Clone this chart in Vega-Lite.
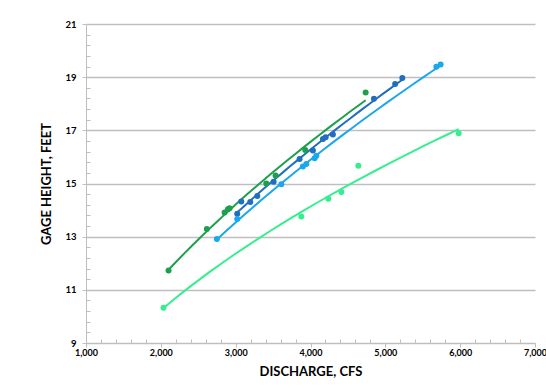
{
  "$schema": "https://vega.github.io/schema/vega-lite/v6.json",
  "width": 449,
  "height": 319,
  "autosize": "none",
  "padding": {"left": 86, "top": 24, "right": 11, "bottom": 45},
  "background": "white",
  "config": {"view": {"stroke": null}},
  "data": {"values": [
    {"series": "A", "q": 2103, "h": 11.73},
    {"series": "A", "q": 2615, "h": 13.29},
    {"series": "A", "q": 2852, "h": 13.91},
    {"series": "A", "q": 2896, "h": 14.03},
    {"series": "A", "q": 2918, "h": 14.07},
    {"series": "A", "q": 3409, "h": 15.0},
    {"series": "A", "q": 3533, "h": 15.3},
    {"series": "A", "q": 3930, "h": 16.26},
    {"series": "A", "q": 4737, "h": 18.42},
    {"series": "B", "q": 3021, "h": 13.86},
    {"series": "B", "q": 3075, "h": 14.32},
    {"series": "B", "q": 3195, "h": 14.3},
    {"series": "B", "q": 3289, "h": 14.53},
    {"series": "B", "q": 3507, "h": 15.07},
    {"series": "B", "q": 3854, "h": 15.92},
    {"series": "B", "q": 4032, "h": 16.24},
    {"series": "B", "q": 4166, "h": 16.67},
    {"series": "B", "q": 4202, "h": 16.74},
    {"series": "B", "q": 4299, "h": 16.84},
    {"series": "B", "q": 4848, "h": 18.19},
    {"series": "B", "q": 5131, "h": 18.74},
    {"series": "B", "q": 5227, "h": 18.97},
    {"series": "C", "q": 2749, "h": 12.91},
    {"series": "C", "q": 3021, "h": 13.66},
    {"series": "C", "q": 3610, "h": 14.97},
    {"series": "C", "q": 3898, "h": 15.64},
    {"series": "C", "q": 3944, "h": 15.73},
    {"series": "C", "q": 4055, "h": 15.95},
    {"series": "C", "q": 4078, "h": 16.04},
    {"series": "C", "q": 5682, "h": 19.39},
    {"series": "C", "q": 5739, "h": 19.48},
    {"series": "D", "q": 2036, "h": 10.33},
    {"series": "D", "q": 3877, "h": 13.76},
    {"series": "D", "q": 4238, "h": 14.43},
    {"series": "D", "q": 4412, "h": 14.68},
    {"series": "D", "q": 4639, "h": 15.67},
    {"series": "D", "q": 5980, "h": 16.89}
  ]},
  "encoding": {
    "x": {"field": "q", "type": "quantitative",
      "scale": {"domain": [1000, 7000], "nice": false, "zero": false},
      "axis": {
        "title": "DISCHARGE, CFS",
        "values": [1000,1200,1400,1600,1800,2000,2200,2400,2600,2800,3000,3200,3400,3600,3800,4000,4200,4400,4600,4800,5000,5200,5400,5600,5800,6000,6200,6400,6600,6800,7000],
        "labelExpr": "datum.value % 1000 === 0 ? format(datum.value, ',') : ''",
        "labelOverlap": false,
        "labelFlush": false,
        "grid": false,
        "domainColor": "#BFBFBF",
        "domainWidth": 1,
        "tickColor": "#BFBFBF",
        "tickSize": {"condition": {"test": "datum.value % 1000 === 0", "value": 4}, "value": -4},
        "labelFont": "Lato", "labelFontWeight": "bold", "labelFontSize": 9, "labelColor": "#000000",
        "labelPadding": 1,
        "titleFont": "Lato", "titleFontWeight": "bold", "titleFontSize": 13, "titleColor": "#000000",
        "titlePadding": 8
      }},
    "y": {"field": "h", "type": "quantitative",
      "scale": {"domain": [9, 21], "nice": false, "zero": false},
      "axis": {
        "title": "GAGE HEIGHT, FEET",
        "values": [9,9.4,9.8,10.2,10.6,11,11.4,11.8,12.2,12.6,13,13.4,13.8,14.2,14.6,15,15.4,15.8,16.2,16.6,17,17.4,17.8,18.2,18.6,19,19.4,19.8,20.2,20.6,21],
        "labelExpr": "abs(datum.value - round(datum.value)) < 0.001 ? format(datum.value, 'd') : ''",
        "labelOverlap": false,
        "labelFlush": false,
        "grid": true,
        "gridColor": "#BFBFBF",
        "gridWidth": 1.5,
        "gridOpacity": {"condition": {"test": "abs(datum.value - round(datum.value)) < 0.001", "value": 1}, "value": 0},
        "domainColor": "#BFBFBF",
        "tickColor": "#BFBFBF",
        "tickSize": {"condition": {"test": "abs(datum.value - round(datum.value)) < 0.001", "value": 4}, "value": -4},
        "labelFont": "Lato", "labelFontWeight": "bold", "labelFontSize": 9.5, "labelColor": "#000000",
        "labelPadding": 6,
        "titleFont": "Lato", "titleFontWeight": "bold", "titleFontSize": 13, "titleColor": "#000000",
        "titlePadding": 11
      }},
    "color": {"field": "series", "type": "nominal", "legend": null,
      "scale": {"domain": ["D", "C", "B", "A"], "range": ["#36EE8F", "#1AA7EC", "#1F6EBF", "#1DA04C"]}}
  },
  "layer": [
    {
      "transform": [{"regression": "h", "on": "q", "groupby": ["series"], "method": "pow"}],
      "mark": {"type": "line", "strokeWidth": 2}
    },
    {
      "mark": {"type": "circle", "size": 36, "opacity": 1}
    }
  ]
}
